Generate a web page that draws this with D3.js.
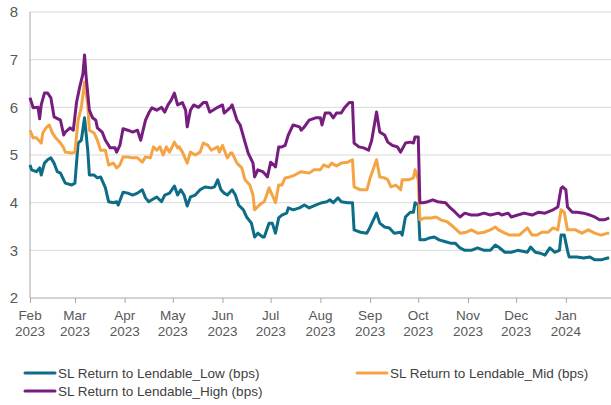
<!DOCTYPE html>
<html><head><meta charset="utf-8">
<script src="https://cdn.jsdelivr.net/npm/d3@7"></script>
<style>body{margin:0;background:#fff;}svg{display:block;font-family:Arial,"Liberation Sans",sans-serif;}</style>
</head><body><svg id="c" width="611" height="405"></svg>
<script>
// days since 2023-02-01 and values (bps)
const startDate = "2023-02-01";
const endDate = "2024-01-31";
const seriesNames = ["SL Return to Lendable_Low (bps)", "SL Return to Lendable_Mid (bps)", "SL Return to Lendable_High (bps)"];
const yTicks = [2,3,4,5,6,7,8];
const monthTicks = ["2023-02-01","2023-03-01","2023-04-01","2023-05-01","2023-06-01","2023-07-01","2023-08-01","2023-09-01","2023-10-01","2023-11-01","2023-12-01","2024-01-01"];

const lowDays = [0,1,4,6,7,9,11,13,15,17,19,21,22,26,28,30,32,34,36,37,40,42,44,47,49,52,54,55,58,61,64,67,70,72,74,76,79,82,84,87,90,92,94,96,98,100,103,106,109,113,115,117,119,121,123,126,128,130,133,135,138,140,142,145,146,149,151,153,155,157,160,161,164,168,171,174,178,182,185,187,189,192,194,198,201,202,206,210,212,216,218,221,224,227,231,232,234,237,239,240,242,243,246,249,252,255,259,262,265,268,271,275,279,283,287,290,292,296,300,304,310,312,315,318,321,324,327,330,331,333,335,336,341,345,349,352,356,360,361];
const lowValues = [4.79,4.69,4.65,4.73,4.58,4.83,4.9,4.94,4.83,4.65,4.62,4.48,4.41,4.37,4.41,5.25,5.31,5.78,5.1,4.58,4.58,4.52,4.54,4.31,4.02,4.0,4.02,3.95,4.22,4.2,4.16,4.2,4.27,4.1,4.02,4.06,4.12,4.02,4.16,4.2,4.35,4.16,4.27,4.16,3.93,4.12,4.16,4.27,4.33,4.31,4.33,4.48,4.27,4.2,4.16,4.27,4.16,3.95,3.85,3.7,3.57,3.28,3.36,3.28,3.28,3.57,3.57,3.36,3.68,3.74,3.78,3.89,3.85,3.89,3.95,3.89,3.95,4.0,4.02,4.06,4.0,4.1,4.02,4.0,4.0,3.43,3.38,3.36,3.49,3.78,3.57,3.49,3.47,3.36,3.38,3.32,3.7,3.8,3.8,4.0,3.95,3.22,3.22,3.26,3.28,3.22,3.18,3.15,3.15,3.05,3.0,3.0,3.05,3.0,3.0,3.11,3.07,2.96,2.96,3.0,2.96,3.07,2.96,2.94,2.9,3.05,2.96,3.0,3.32,3.32,3.0,2.86,2.86,2.84,2.86,2.8,2.8,2.84,2.84];

const midDays = [0,2,4,7,8,10,12,14,16,19,21,22,26,28,30,32,34,36,37,40,42,44,47,49,52,54,56,58,61,64,67,70,72,75,77,79,81,83,85,87,90,92,93,95,98,100,103,106,108,111,113,117,118,120,123,125,126,129,132,134,137,139,140,143,145,146,149,151,153,155,157,159,162,165,169,174,177,181,183,186,188,191,194,198,201,202,206,210,212,216,218,221,223,225,228,231,232,236,239,240,242,243,246,250,253,256,260,264,268,272,275,279,283,287,290,292,296,299,302,305,310,313,316,319,323,326,329,331,333,335,340,344,348,352,356,360,361];
const midValues = [5.52,5.36,5.36,5.25,5.46,5.57,5.63,5.46,5.36,5.25,5.15,5.06,5.04,5.06,5.73,6.0,6.53,6.05,5.52,5.46,5.31,5.1,5.1,4.79,4.83,4.73,4.79,4.96,4.96,4.94,4.94,4.85,4.96,4.94,5.17,5.1,5.17,5.0,5.17,5.06,5.27,5.15,5.17,5.06,4.83,5.06,5.0,5.06,5.25,5.2,5.1,5.17,5.06,5.2,4.94,5.04,5.04,4.83,4.73,4.48,4.37,4.16,3.85,3.95,4.0,4.02,4.31,4.16,4.0,4.37,4.37,4.52,4.54,4.58,4.65,4.62,4.69,4.69,4.79,4.75,4.83,4.77,4.83,4.85,4.9,4.33,4.27,4.27,4.52,4.9,4.54,4.52,4.48,4.33,4.37,4.27,4.48,4.48,4.52,4.69,4.48,3.64,3.68,3.68,3.7,3.64,3.6,3.49,3.36,3.38,3.43,3.36,3.38,3.43,3.49,3.43,3.36,3.32,3.32,3.32,3.47,3.32,3.32,3.38,3.38,3.47,3.43,3.85,3.8,3.43,3.43,3.36,3.43,3.36,3.32,3.36,3.36];

const highDays = [0,2,5,6,7,9,11,13,15,19,21,22,25,27,29,31,33,34,35,37,39,41,42,45,47,50,53,54,56,58,61,64,67,69,72,74,76,79,82,84,86,88,90,92,95,97,98,100,102,105,108,110,112,114,117,120,121,125,126,129,131,134,136,139,140,142,145,146,148,150,152,153,155,157,159,161,164,168,169,171,174,178,181,182,184,187,189,191,194,196,199,201,202,205,208,211,213,216,218,221,223,226,229,231,234,237,239,240,242,243,245,248,251,254,259,262,265,268,271,275,279,283,287,292,294,298,300,304,308,313,317,321,326,329,331,332,334,335,338,341,345,349,352,355,358,361];
const highValues = [6.2,5.99,6.0,5.76,6.05,6.3,6.3,6.2,5.8,5.73,5.42,5.48,5.57,5.52,6.1,6.43,6.7,7.1,6.64,5.94,5.78,5.73,5.57,5.48,5.31,5.15,5.15,5.06,5.2,5.55,5.52,5.48,5.52,5.31,5.73,5.88,5.99,5.94,6.0,5.9,6.05,6.15,6.3,6.05,6.1,5.94,5.59,5.94,6.05,6.0,6.1,6.1,5.9,5.94,6.0,6.05,5.88,6.0,6.05,5.73,5.63,5.27,5.04,4.83,4.54,4.69,4.65,4.62,4.54,4.85,4.79,4.75,5.17,5.17,5.2,5.42,5.63,5.59,5.52,5.59,5.73,5.78,5.78,5.63,5.88,5.88,5.78,5.88,5.88,5.99,6.1,6.1,5.25,5.17,5.15,5.1,5.31,5.9,5.48,5.42,5.27,5.2,5.17,5.06,5.25,5.27,5.25,5.38,5.38,4.0,4.0,4.02,4.06,4.02,4.0,3.89,3.8,3.7,3.78,3.74,3.74,3.78,3.74,3.78,3.74,3.78,3.7,3.74,3.78,3.74,3.8,3.78,3.85,3.91,4.3,4.33,4.27,3.91,3.8,3.8,3.78,3.74,3.7,3.64,3.64,3.68];

const colors = ["#0e6d86", "#f4a443", "#761d7e"];

const svg = d3.select("#c");
const parse = d3.timeParse("%Y-%m-%d");
const t0 = parse(startDate);
const x = d3.scaleTime().domain([t0, parse(endDate)]).range([30, 614]);
const y = d3.scaleLinear().domain([2, 8]).range([298, 12]);

// gridlines
svg.append("g").selectAll("line").data(yTicks.filter(v => v > 2)).join("line")
  .attr("x1", 30).attr("x2", 611).attr("y1", d => y(d)).attr("y2", d => y(d))
  .attr("stroke", "#d9d9d9").attr("stroke-width", 1);

// y axis labels
svg.append("g").selectAll("text").data(yTicks).join("text")
  .attr("x", 18).attr("y", d => y(d)).attr("dy", "0.36em")
  .attr("text-anchor", "end").attr("font-size", 15).attr("fill", "#595959")
  .text(d => d);
// y axis line
svg.append("line").attr("x1", 30).attr("x2", 30).attr("y1", y(8)).attr("y2", y(2))
  .attr("stroke", "#a6a6a6").attr("stroke-width", 1);

// x axis
const xAxis = d3.axisBottom(x).tickValues(monthTicks.map(parse)).tickSize(5).tickFormat("");
const gx = svg.append("g").attr("transform", `translate(0,${y(2)})`).call(xAxis);
gx.select(".domain").remove();
gx.selectAll(".tick line").attr("stroke", "#a6a6a6");
svg.append("line").attr("x1", 30).attr("x2", 611).attr("y1", y(2)).attr("y2", y(2))
  .attr("stroke", "#a6a6a6").attr("stroke-width", 1);
const fmtM = d3.timeFormat("%b"), fmtY = d3.timeFormat("%Y");
const lab = svg.append("g").selectAll("text").data(monthTicks.map(parse)).join("text")
  .attr("text-anchor", "middle").attr("font-size", 13.5).attr("fill", "#595959")
  .attr("transform", d => `translate(${x(d)},0)`);
lab.append("tspan").attr("x", 0).attr("y", 320).text(d => fmtM(d));
lab.append("tspan").attr("x", 0).attr("y", 336).text(d => fmtY(d));

// lines
const series = [
  {days: lowDays, values: lowValues},
  {days: midDays, values: midValues},
  {days: highDays, values: highValues}
];
const line = d3.line().x(d => x(d[0])).y(d => y(d[1]));
series.forEach((s, i) => {
  const pts = s.days.map((d, j) => [d3.timeDay.offset(t0, d), s.values[j]]);
  svg.append("path").datum(pts).attr("d", line)
    .attr("fill", "none").attr("stroke", colors[i]).attr("stroke-width", 3)
    .attr("stroke-linejoin", "round");
});
// re-order: draw order low, mid, high matches reference (high on top)

// legend
const legendPos = [[25, 373], [357, 373], [25, 391]];
seriesNames.forEach((n, i) => {
  const [lx, ly] = legendPos[i];
  svg.append("line").attr("x1", lx).attr("x2", lx + 30).attr("y1", ly).attr("y2", ly)
    .attr("stroke", colors[i]).attr("stroke-width", 3).attr("stroke-linecap", "round");
  svg.append("text").attr("x", lx + 33).attr("y", ly).attr("dy", "0.35em")
    .attr("font-size", 13.5).attr("fill", "#404040").text(n);
});
</script></body></html>
